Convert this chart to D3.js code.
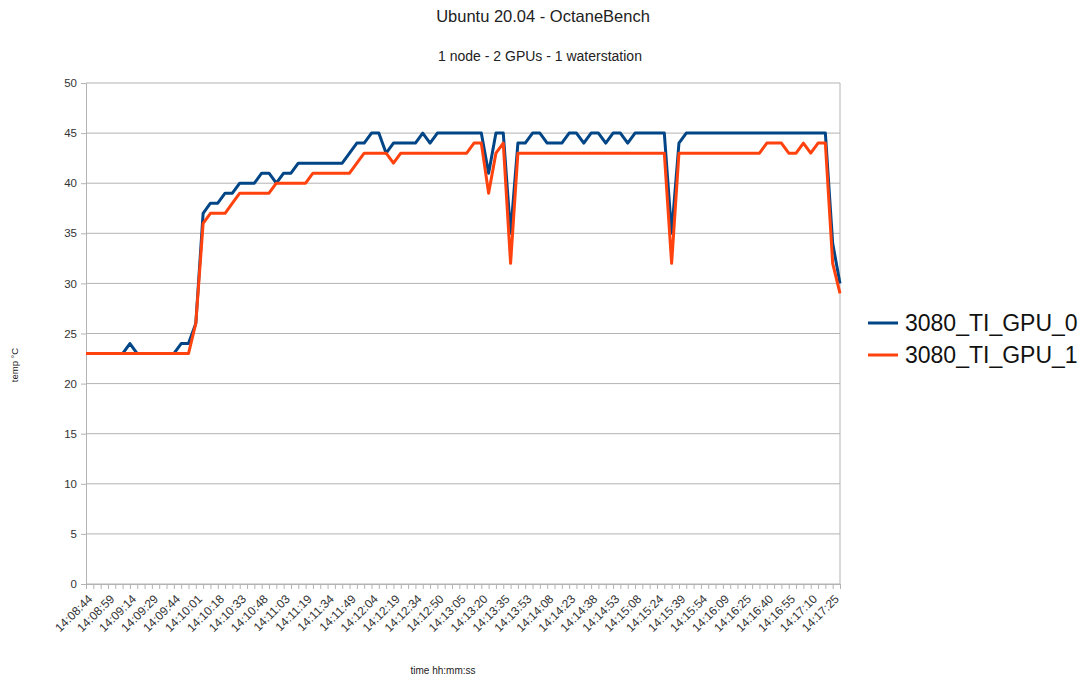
<!DOCTYPE html>
<html>
<head>
<meta charset="utf-8">
<script src="https://cdn.jsdelivr.net/npm/d3@7"></script>
<style>
  body { margin: 0; background: #fff; }
  text { font-family: "Liberation Sans", Arial, sans-serif; }
</style>
</head>
<body>
<svg id="chart" width="1087" height="682"></svg>
<script>
// one sample every ~5 s, labels shown on every 3rd sample
const tickLabels = [
  '14:08:44', '14:08:59', '14:09:14', '14:09:29', '14:09:44', '14:10:01', '14:10:18',
  '14:10:33', '14:10:48', '14:11:03', '14:11:19', '14:11:34', '14:11:49', '14:12:04',
  '14:12:19', '14:12:34', '14:12:50', '14:13:05', '14:13:20', '14:13:35', '14:13:53',
  '14:14:08', '14:14:23', '14:14:38', '14:14:53', '14:15:08', '14:15:24', '14:15:39',
  '14:15:54', '14:16:09', '14:16:25', '14:16:40', '14:16:55', '14:17:10', '14:17:25',
];

const gpu0 = [
  23, 23, 23, 23, 23, 23, 24, 23, 23, 23, 23, 23, 23, 24, 24, 26, 37, 38, 38, 39,
  39, 40, 40, 40, 41, 41, 40, 41, 41, 42, 42, 42, 42, 42, 42, 42, 43, 44, 44, 45,
  45, 43, 44, 44, 44, 44, 45, 44, 45, 45, 45, 45, 45, 45, 45, 41, 45, 45, 35, 44,
  44, 45, 45, 44, 44, 44, 45, 45, 44, 45, 45, 44, 45, 45, 44, 45, 45, 45, 45, 45,
  35, 44, 45, 45, 45, 45, 45, 45, 45, 45, 45, 45, 45, 45, 45, 45, 45, 45, 45, 45,
  45, 45, 34, 30,
];

const gpu1 = [
  23, 23, 23, 23, 23, 23, 23, 23, 23, 23, 23, 23, 23, 23, 23, 26, 36, 37, 37, 37,
  38, 39, 39, 39, 39, 39, 40, 40, 40, 40, 40, 41, 41, 41, 41, 41, 41, 42, 43, 43,
  43, 43, 42, 43, 43, 43, 43, 43, 43, 43, 43, 43, 43, 44, 44, 39, 43, 44, 32, 43,
  43, 43, 43, 43, 43, 43, 43, 43, 43, 43, 43, 43, 43, 43, 43, 43, 43, 43, 43, 43,
  32, 43, 43, 43, 43, 43, 43, 43, 43, 43, 43, 43, 43, 44, 44, 44, 43, 43, 44, 43,
  44, 44, 32, 29,
];

const seriesNames = ['3080_TI_GPU_0', '3080_TI_GPU_1'];
const seriesColors = ['#004586', '#ff420e'];
const yTicks = d3.range(0, 51, 5);

const plot = { left: 86, right: 840, top: 83, bottom: 584 };
const svg = d3.select('#chart');

const x = d3.scalePoint()
  .domain(d3.range(gpu0.length))
  .range([plot.left, plot.right]);

const y = d3.scaleLinear()
  .domain([0, 50])
  .range([plot.bottom, plot.top]);

// titles
svg.append('text')
  .attr('x', 543).attr('y', 22)
  .attr('text-anchor', 'middle')
  .style('font-size', '16.5px')
  .attr('fill', '#222')
  .text('Ubuntu 20.04 - OctaneBench');

svg.append('text')
  .attr('x', 540).attr('y', 61)
  .attr('text-anchor', 'middle')
  .style('font-size', '14px')
  .attr('fill', '#222')
  .text('1 node - 2 GPUs - 1 waterstation');

// horizontal grid + y axis
const yAxis = d3.axisLeft(y)
  .tickValues(yTicks)
  .tickSize(5)
  .tickPadding(4);

const yg = svg.append('g')
  .attr('transform', `translate(${plot.left},0)`)
  .call(yAxis);
yg.select('.domain').attr('stroke', '#b3b3b3');
yg.selectAll('.tick line').attr('stroke', '#b3b3b3');
yg.selectAll('.tick text')
  .style('font-size', '11.5px')
  .attr('fill', '#333');

svg.append('g')
  .selectAll('line')
  .data(yTicks)
  .join('line')
  .attr('x1', plot.left)
  .attr('x2', plot.right)
  .attr('y1', (d) => y(d))
  .attr('y2', (d) => y(d))
  .attr('stroke', '#b3b3b3')
  .attr('stroke-width', 1);

svg.append('line')
  .attr('x1', plot.right).attr('x2', plot.right)
  .attr('y1', plot.top).attr('y2', plot.bottom)
  .attr('stroke', '#b3b3b3');

// x axis: small tick on every sample, label on every 3rd
const xAxis = d3.axisBottom(x)
  .tickSize(5)
  .tickFormat((i) => (i % 3 === 0 ? tickLabels[i / 3] : ''));

const xg = svg.append('g')
  .attr('transform', `translate(0,${plot.bottom})`)
  .call(xAxis);
xg.select('.domain').attr('stroke', '#b3b3b3');
xg.selectAll('.tick line').attr('stroke', '#b3b3b3');
xg.selectAll('.tick text')
  .style('font-size', '12px')
  .attr('fill', '#333')
  .attr('text-anchor', 'end')
  .attr('dy', 0)
  .attr('transform', 'translate(1,10) rotate(-45)');

// axis titles
svg.append('text')
  .attr('transform', 'translate(18,365) rotate(-90)')
  .attr('text-anchor', 'middle')
  .style('font-size', '9.5px')
  .attr('fill', '#222')
  .text('temp °C');

svg.append('text')
  .attr('x', 443).attr('y', 674)
  .attr('text-anchor', 'middle')
  .style('font-size', '10px')
  .attr('fill', '#222')
  .text('time hh:mm:ss');

// lines
const line = d3.line()
  .x((d, i) => x(i))
  .y((d) => y(d));

[gpu0, gpu1].forEach((values, idx) => {
  svg.append('path')
    .datum(values)
    .attr('fill', 'none')
    .attr('stroke', seriesColors[idx])
    .attr('stroke-width', 3)
    .attr('stroke-linejoin', 'round')
    .attr('d', line);
});

// legend
seriesNames.forEach((name, idx) => {
  const ly = 323 + idx * 32;
  svg.append('line')
    .attr('x1', 868).attr('x2', 898)
    .attr('y1', ly).attr('y2', ly)
    .attr('stroke', seriesColors[idx])
    .attr('stroke-width', 3);
  svg.append('text')
    .attr('x', 905).attr('y', ly + 8)
    .style('font-size', '23px')
    .attr('fill', '#111')
    .text(name);
});
</script>
</body>
</html>
